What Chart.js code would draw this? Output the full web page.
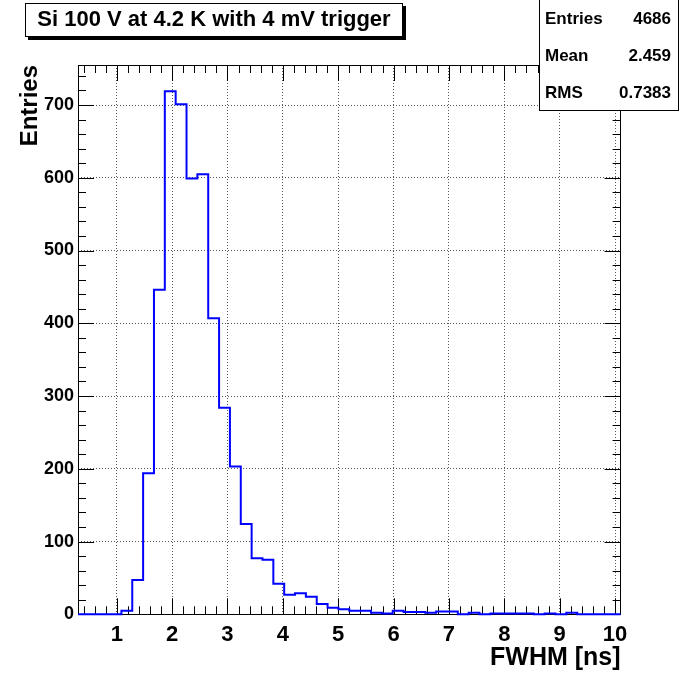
<!DOCTYPE html>
<html lang="en">
<head>
<meta charset="UTF-8" />
<title>FWHM histogram</title>
<script src="https://cdn.jsdelivr.net/npm/chart.js@4.4.1/dist/chart.umd.min.js"></script>
<style>
  html, body { margin: 0; padding: 0; background: #fff; }
  #wrap { position: relative; width: 687px; height: 673px; }
</style>
</head>
<body>
<div id="wrap"><canvas id="myChart"></canvas></div>
<script>
// histogram: 50 bins between histMin and histMax
const histTitle = 'Si 100 V at 4.2 K with 4 mV trigger';
const xTitle = 'FWHM [ns]';
const yTitle = 'Entries';
const histMin = 0.3;
const histMax = 10.1;
const counts = [0, 0, 0, 0, 5, 47, 194, 446, 719, 701,
                599, 605, 407, 284, 203, 124, 77, 75, 42, 27,
                29, 24, 14, 9, 7, 5, 5, 2, 1, 5,
                3, 3, 2, 4, 4, 0, 2, 0, 1, 1,
                1, 1, 0, 1, 0, 2, 0, 0, 0, 0];
const xTickVals = [1, 2, 3, 4, 5, 6, 7, 8, 9, 10];
const yTickVals = [0, 100, 200, 300, 400, 500, 600, 700];
const yMax = 755;
const statNames = ['Entries', 'Mean', 'RMS'];
const statValues = ['4686', '2.459', '0.7383'];

const FONT = "'Liberation Sans', Arial, Helvetica, sans-serif";
Chart.defaults.font.family = FONT;
Chart.defaults.color = '#000';

const binW = (histMax - histMin) / counts.length;
const pts = counts.map((c, i) => ({ x: histMin + i * binW, y: c }));
pts.push({ x: histMax, y: counts[counts.length - 1] });

// frame, inside ticks, title box and stats box in ROOT style
const rootStyle = {
  id: 'rootStyle',
  beforeDatasetsDraw(chart) {
    const { ctx, chartArea: a, scales: { x, y } } = chart;
    ctx.save();
    ctx.strokeStyle = '#000';
    ctx.lineWidth = 1;
    ctx.strokeRect(Math.round(a.left) + 0.5, Math.round(a.top) + 0.5,
                   Math.round(a.right - a.left) - 1, Math.round(a.bottom - a.top));
    ctx.beginPath();
    const big = 16, small = 8;
    for (let v = 0.4; v < histMax; v += 0.2) {
      const r = Math.round(v * 10) / 10;
      const len = Math.abs(r - Math.round(r)) < 1e-6 ? big : small;
      const px = Math.round(x.getPixelForValue(r)) + 0.5;
      ctx.moveTo(px, a.bottom); ctx.lineTo(px, a.bottom - len);
      ctx.moveTo(px, a.top); ctx.lineTo(px, a.top + len);
    }
    for (let v = 20; v < yMax; v += 20) {
      const len = v % 100 === 0 ? big : small;
      const py = Math.round(y.getPixelForValue(v)) + 0.5;
      ctx.moveTo(a.left, py); ctx.lineTo(a.left + len, py);
      ctx.moveTo(a.right, py); ctx.lineTo(a.right - len, py);
    }
    ctx.stroke();
    ctx.restore();
  },
  afterDraw(chart) {
    const { ctx } = chart;
    ctx.save();
    // title box with shadow
    ctx.fillStyle = '#000';
    ctx.fillRect(28, 6, 378, 34);
    ctx.fillStyle = '#fff';
    ctx.fillRect(25, 3, 378, 34);
    ctx.strokeStyle = '#000';
    ctx.lineWidth = 1;
    ctx.strokeRect(25.5, 3.5, 377, 33);
    ctx.fillStyle = '#000';
    ctx.font = 'bold 22px ' + FONT;
    ctx.textAlign = 'center';
    ctx.textBaseline = 'middle';
    ctx.fillText(histTitle, 214, 20);
    // stats box
    ctx.fillStyle = '#fff';
    ctx.fillRect(539, 0, 140, 111);
    ctx.strokeRect(539.5, -0.5, 139, 111);
    ctx.fillStyle = '#000';
    ctx.font = 'bold 17px ' + FONT;
    statNames.forEach((n, i) => {
      const yy = 19 + i * 37;
      ctx.textAlign = 'left';
      ctx.fillText(n, 545, yy);
      ctx.textAlign = 'right';
      ctx.fillText(statValues[i], 671, yy);
    });
    ctx.restore();
  }
};

const ctx = document.getElementById('myChart');
new Chart(ctx, {
  type: 'line',
  data: {
    datasets: [{
      label: yTitle,
      data: pts,
      borderColor: 'rgb(0,0,255)',
      borderWidth: 2,
      pointRadius: 0,
      stepped: 'before',
      fill: false,
      clip: 4
    }]
  },
  options: {
    responsive: true,
    maintainAspectRatio: false,
    devicePixelRatio: 1,
    animation: false,
    layout: { padding: { left: 0, right: 66.4, top: 65, bottom: 0 } },
    plugins: { legend: { display: false }, tooltip: { enabled: false } },
    scales: {
      x: {
        type: 'linear',
        min: histMin,
        max: histMax,
        afterBuildTicks: s => { s.ticks = xTickVals.map(v => ({ value: v })); },
        afterFit: s => { s.height = 58.7; },
        ticks: { font: { size: 22, weight: 'bold' }, padding: 7, maxRotation: 0 },
        grid: {
          drawTicks: false,
          color: '#555',
          lineWidth: 1
        },
        border: { display: false, dash: [1, 2] },
        title: {
          display: true, text: xTitle, align: 'end',
          font: { size: 25, weight: 'bold' }, padding: { top: 0, bottom: 0 }
        }
      },
      y: {
        type: 'linear',
        min: 0,
        max: yMax,
        afterBuildTicks: s => { s.ticks = yTickVals.map(v => ({ value: v })); },
        afterFit: s => { s.width = 78; },
        ticks: { font: { size: 18, weight: 'bold' }, padding: 4 },
        grid: {
          drawTicks: false,
          color: c => (c.tick && c.tick.value === 0) ? 'rgba(0,0,0,0)' : '#555',
          lineWidth: 1
        },
        border: { display: false, dash: [1, 2] },
        title: {
          display: true, text: yTitle, align: 'end',
          font: { size: 24, weight: 'bold' }, padding: { top: 16, bottom: 0 }
        }
      }
    }
  },
  plugins: [rootStyle]
});
</script>
</body>
</html>
